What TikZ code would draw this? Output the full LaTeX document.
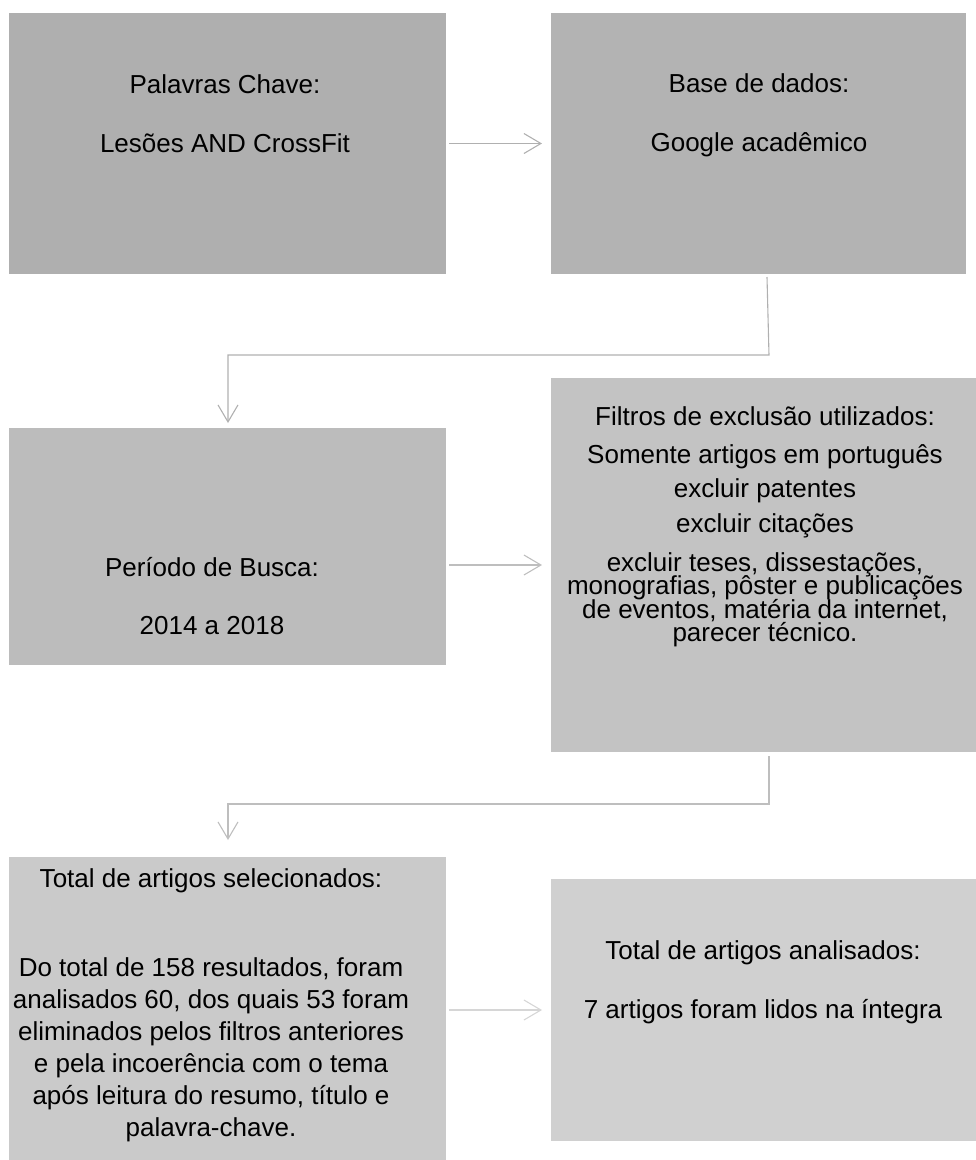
\documentclass[tikz,border=0pt]{standalone}
\usepackage{fontspec}
\setmainfont{Liberation Sans}
\usetikzlibrary{arrows.meta}
\definecolor{cA}{HTML}{AFAFAF}
\definecolor{cB}{HTML}{B3B3B3}
\definecolor{cC}{HTML}{BCBCBC}
\definecolor{cD}{HTML}{C3C3C3}
\definecolor{cE}{HTML}{CACACA}
\definecolor{cF}{HTML}{D0D0D0}
\definecolor{lA}{HTML}{B0B0B0}
\definecolor{lB}{HTML}{BEBEBE}
\definecolor{lC}{HTML}{D6D6D6}
\newcommand\mytightlines{\lineskiplimit=-50pt\relax\lineskip=0pt\relax}
\tikzset{
  box/.style={rectangle, inner sep=0pt, outer sep=0pt, anchor=north west},
  txt/.style={align=center, inner sep=0pt, font=\fontsize{26}{30}\selectfont},
  arr/.style={line width=1.1pt, -{Straight Barb[length=17pt,width=20pt,line width=1.1pt]}},
}
\begin{document}
\begin{tikzpicture}[x=1pt,y=-1pt]
\useasboundingbox (0,0) rectangle (976,1160);
% boxes
\node[box, fill=cA, minimum width=437pt, minimum height=261pt] (b1) at (9,13) {};
\node[box, fill=cB, minimum width=415pt, minimum height=261pt] (b2) at (551,13) {};
\node[box, fill=cC, minimum width=437pt, minimum height=237pt] (b3) at (9,428) {};
\node[box, fill=cD, minimum width=425pt, minimum height=374pt] (b4) at (551,378) {};
\node[box, fill=cE, minimum width=437pt, minimum height=303pt] (b5) at (9,857) {};
\node[box, fill=cF, minimum width=425pt, minimum height=262pt] (b6) at (551,879) {};
% texts
\node[txt] (t1) at (225,114) {Palavras Chave:\\[29pt]Lesões AND CrossFit};
\node[txt] (t2) at (759,115) {Base de dados:\\[29pt]Google acadêmico};
\node[txt] (t3) at (212,596) {Período de Busca:\\[28pt]2014 a 2018};
\node[txt, font=\fontsize{26}{23.5}\selectfont\mytightlines] (t4) at (765,527)
  {Filtros de exclusão utilizados:\\[14pt]Somente artigos em português\\[11pt]excluir patentes\\[11.5pt]excluir citações\\[15pt]excluir teses, dissestações,\\monografias, pôster e publicações\\de eventos, matéria da internet,\\parecer técnico.};
\node[txt, font=\fontsize{26}{32}\selectfont] (t5) at (211,1005)
  {Total de artigos selecionados:\\[57pt]Do total de 158 resultados, foram\\analisados 60, dos quais 53 foram\\eliminados pelos filtros anteriores\\e pela incoerência com o tema\\após leitura do resumo, título e\\palavra-chave.};
\node[txt] (t6) at (763,982) {Total de artigos analisados:\\[29pt]7 artigos foram lidos na íntegra};
% connectors
\coordinate (k1) at (769,355);
\coordinate (k2) at (769,804);
\draw[arr, draw=lA] ([xshift=3pt]b1.east) -- ([xshift=-9pt]b2.west);
\draw[arr, draw=lA] ([xshift=-2pt,yshift=-3pt]b2.south -| k1) -- (k1) -- (k1 -| 228,0) -- ([yshift=5pt]b3.north -| 228,0);
\draw[arr, draw=lB] ([xshift=3pt]b3.east |- b4.west) -- ([xshift=-9pt]b4.west);
\draw[arr, draw=lB] ([yshift=-4pt]b4.south -| k2) -- (k2) -- (k2 -| 228,0) -- ([yshift=17pt]b5.north -| 228,0);
\draw[arr, draw=lC] ([xshift=3pt]b5.east |- b6.west) -- ([xshift=-9pt]b6.west);
\end{tikzpicture}
\end{document}
